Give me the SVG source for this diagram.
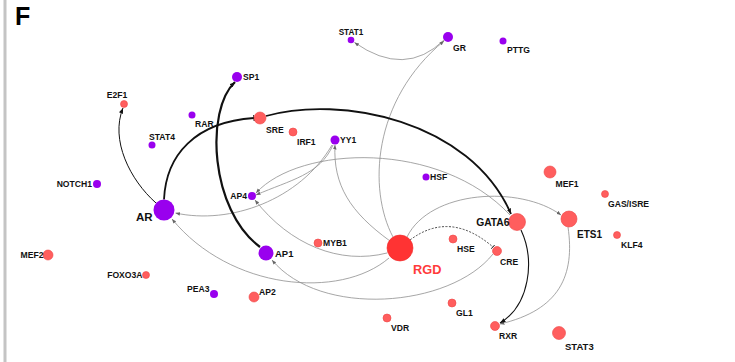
<svg xmlns="http://www.w3.org/2000/svg" width="735" height="362" viewBox="0 0 735 362">
<defs>
<style>
text{font-family:"Liberation Sans",Arial,sans-serif;font-weight:bold;font-size:8.6px;fill:#111}
.p{fill:#9900ee}
.r{fill:#ff5e5e;stroke:#ee4444;stroke-width:0.6}
.g{fill:none;stroke:#8f8f8f;stroke-width:0.8}
.k{fill:none;stroke:#111}
.e{text-anchor:end}
.m{text-anchor:middle}
</style>
<marker id="ag" viewBox="0 0 10 10" refX="10" refY="5" markerWidth="4.5" markerHeight="4.5" orient="auto" markerUnits="userSpaceOnUse"><path d="M0,1 L10,5 L0,9 z" fill="#666"/></marker>
<marker id="ak" viewBox="0 0 10 10" refX="10" refY="5" markerWidth="5.5" markerHeight="5.5" orient="auto" markerUnits="userSpaceOnUse"><path d="M0,1 L10,5 L0,9 z" fill="#111"/></marker>
<marker id="tk" viewBox="0 0 10 10" refX="9" refY="5" markerWidth="6" markerHeight="6" orient="auto" markerUnits="userSpaceOnUse"><path d="M9,0 L9,10" stroke="#111" stroke-width="2"/></marker>
<marker id="tg" viewBox="0 0 10 10" refX="9" refY="5" markerWidth="5" markerHeight="5" orient="auto" markerUnits="userSpaceOnUse"><path d="M9,0 L9,10" stroke="#333" stroke-width="2"/></marker>
</defs>
<rect x="0" y="0" width="735" height="362" fill="#fff"/>
<rect x="3.5" y="0" width="3" height="362" fill="#c4c4c4"/>
<text x="15" y="25" style="font-size:25px;fill:#000">F</text>

<g id="connectors">
<path class="g" d="M444 40 Q405 78 354.5 42.5" marker-end="url(#ag)"/>
<path class="g" d="M393 237 C368 190 372 100 444 41" marker-end="url(#ag)"/>
<path class="g" d="M390 241 C350 212 333 185 335 145" marker-end="url(#ag)"/>
<path class="g" d="M332 145 C300 200 230 225 175.5 213" marker-end="url(#ag)"/>
<path class="g" d="M333 145 C320 175 290 180 256 195" marker-end="url(#ag)"/>
<path class="g" d="M510 215 C440 140 300 145 256 193" marker-end="url(#ag)"/>
<path class="g" d="M387 253 C340 265 290 245 255 200" marker-end="url(#ag)"/>
<path class="g" d="M389 258 C340 300 230 290 172 219" marker-end="url(#ag)"/>
<path class="g" d="M493 254 C450 308 320 318 272 260" marker-end="url(#ag)"/>
<path class="g" d="M410 240 Q450 210 493 247" style="stroke:#333;stroke-dasharray:2 1.5;stroke-width:0.9" marker-end="url(#tg)"/>
<path class="g" d="M407 237 C430 190 520 185 561 215" marker-end="url(#ag)"/>
<path class="g" d="M568 227 C575 275 560 310 500 324" marker-end="url(#ag)"/>
<path class="k" d="M521 230 C535 260 530 305 500 323" style="stroke-width:1.1" marker-end="url(#ak)"/>
<path class="k" d="M266 116 C340 95 470 120 511 214" style="stroke-width:1.8" marker-end="url(#ak)"/>
<path class="k" d="M164 199.5 C166 155 195 122 254 118" style="stroke-width:1.8" marker-end="url(#tk)"/>
<path class="k" d="M156 203 C130 180 110 140 123 108" style="stroke-width:1" marker-end="url(#ak)"/>
<path class="k" d="M260 247 C210 210 205 110 235 82" style="stroke-width:2.2" marker-end="url(#ak)"/>
</g>

<g id="STAT1"><circle class="p" cx="351" cy="40" r="3.3"/><text class="m" x="351" y="35" style="font-size:8.2px">STAT1</text></g>
<g id="GR"><circle class="p" cx="448" cy="37" r="5"/><text x="453" y="51">GR</text></g>
<g id="PTTG"><circle class="p" cx="503" cy="41" r="3.5"/><text x="507" y="53">PTTG</text></g>
<g id="SP1"><circle class="p" cx="237" cy="77" r="5"/><text x="243" y="80">SP1</text></g>
<g id="RAR"><circle class="p" cx="192" cy="115" r="3.5"/><text x="195" y="127">RAR</text></g>
<g id="STAT4"><circle class="p" cx="152" cy="145" r="3.5"/><text x="149" y="140">STAT4</text></g>
<g id="YY1"><circle class="p" cx="335" cy="140" r="4.5"/><text x="340" y="143">YY1</text></g>
<g id="HSF"><circle class="p" cx="426" cy="177" r="3.5"/><text x="430" y="180">HSF</text></g>
<g id="NOTCH1"><circle class="p" cx="97" cy="184" r="4"/><text class="e" x="92" y="187">NOTCH1</text></g>
<g id="AP4"><circle class="p" cx="252" cy="196" r="4"/><text class="e" x="247" y="199">AP4</text></g>
<g id="AR"><circle class="p" cx="164" cy="210" r="10.5"/><text class="e" x="152.5" y="221" style="font-size:11.5px">AR</text></g>
<g id="AP1"><circle class="p" cx="266" cy="253" r="7.5"/><text x="275" y="256.5" style="font-size:9.5px">AP1</text></g>
<g id="PEA3"><circle class="p" cx="214" cy="294" r="4"/><text class="e" x="209.5" y="292">PEA3</text></g>

<g id="E2F1"><circle class="r" cx="124" cy="104" r="3.5"/><text class="m" x="117" y="98">E2F1</text></g>
<g id="SRE"><circle class="r" cx="260" cy="118" r="6"/><text x="266" y="133">SRE</text></g>
<g id="IRF1"><circle class="r" cx="293" cy="132" r="4"/><text x="297" y="145">IRF1</text></g>
<g id="MEF1"><circle class="r" cx="550" cy="172" r="6"/><text x="555.5" y="187">MEF1</text></g>
<g id="GAS_ISRE"><circle class="r" cx="605" cy="194" r="3.5"/><text x="608" y="207">GAS/ISRE</text></g>
<g id="ETS1"><circle class="r" cx="569" cy="219" r="8"/><text x="577" y="237.5" style="font-size:10px">ETS1</text></g>
<g id="KLF4"><circle class="r" cx="617" cy="235" r="3.5"/><text x="621" y="248">KLF4</text></g>
<g id="GATA6"><circle class="r" cx="517" cy="222" r="8.5"/><text class="e" x="509.5" y="225.5" style="font-size:10.3px">GATA6</text></g>
<g id="HSE"><circle class="r" cx="453" cy="239" r="4"/><text x="457" y="252">HSE</text></g>
<g id="CRE"><circle class="r" cx="497" cy="251" r="4.5"/><text x="500" y="265">CRE</text></g>
<g id="RGD"><circle cx="400" cy="248" r="13" fill="#ff3333" stroke="#f02828" stroke-width="0.6"/><text x="413" y="273.5" style="font-size:12.8px;fill:#ff3b3b">RGD</text></g>
<g id="MYB1"><circle class="r" cx="318" cy="243" r="4"/><text x="323" y="246">MYB1</text></g>
<g id="MEF2"><circle class="r" cx="48" cy="255" r="5"/><text class="e" x="43.5" y="258">MEF2</text></g>
<g id="FOXO3A"><circle class="r" cx="146" cy="275" r="3.5"/><text class="e" x="142.5" y="278">FOXO3A</text></g>
<g id="AP2"><circle class="r" cx="254" cy="297" r="5"/><text x="259" y="295">AP2</text></g>
<g id="GL1"><circle class="r" cx="452" cy="303" r="4"/><text x="456" y="316">GL1</text></g>
<g id="VDR"><circle class="r" cx="387" cy="318" r="4"/><text x="391" y="331">VDR</text></g>
<g id="RXR"><circle class="r" cx="495" cy="326" r="4.5"/><text x="499" y="339">RXR</text></g>
<g id="STAT3"><circle class="r" cx="559" cy="333" r="6.5"/><text x="565" y="350" style="font-size:9.5px">STAT3</text></g>
</svg>
